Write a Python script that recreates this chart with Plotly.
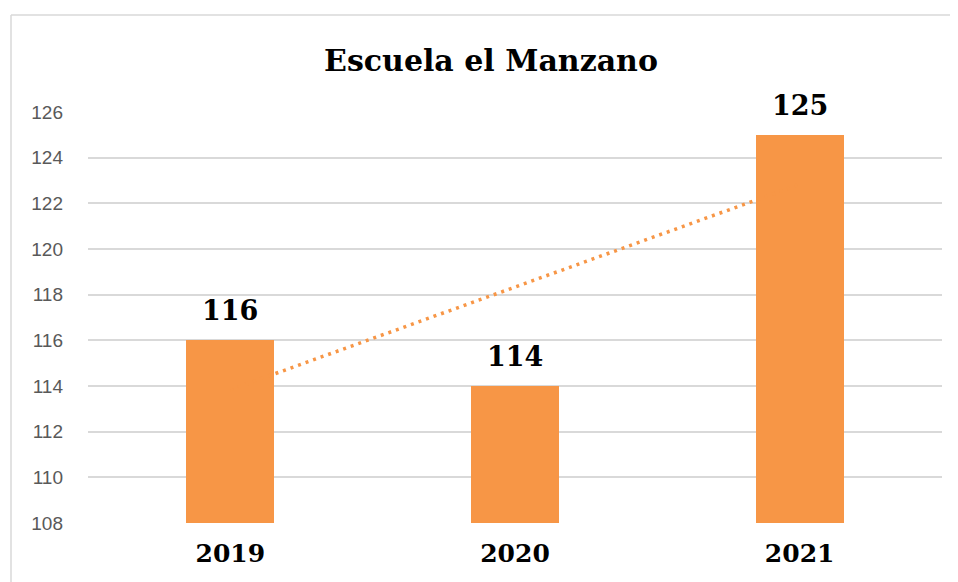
import numpy as np
import plotly.graph_objects as go

years = ["2019", "2020", "2021"]
values = [116, 114, 125]
y_ticks = [108, 110, 112, 114, 116, 118, 120, 122, 124, 126]

x_idx = list(range(len(years)))
coef = np.polyfit(x_idx, values, 1)
trend_y = [coef[0] * x + coef[1] for x in x_idx]

ORANGE = "#F79646"
SERIF = "DejaVu Serif"

fig = go.Figure()
fig.add_trace(go.Scatter(
    x=x_idx, y=trend_y, mode="lines",
    line=dict(color=ORANGE, width=3.5, dash="3px,5px"),
    hoverinfo="skip", showlegend=False,
))
fig.add_trace(go.Bar(
    x=x_idx, y=values, width=0.31,
    marker=dict(color=ORANGE, line=dict(width=0)),
    hoverinfo="x+y", showlegend=False,
))

# page has an 8px body margin; reference pixel p -> figure coordinate p - 8
OFF = 8
W, H = 958 - OFF, 582 - OFF
ml = 88 - OFF
mt = 112 - OFF
mr = W - (942 - OFF)
mb = H - (523 - OFF)
pw, ph = W - ml - mr, H - mt - mb

def px_x(p):
    return (p - OFF - ml) / pw

def px_y(p):
    return 1 - (p - OFF - mt) / ph

annotations = [
    dict(x=x, y=v, xref="x", yref="y", text=f"<b>{v}</b>", showarrow=False,
         yanchor="bottom", xanchor="center", yshift=12,
         font=dict(family=SERIF, size=27, color="black"))
    for x, v in zip(x_idx, values)
]

fig.update_layout(
    width=W, height=H,
    margin=dict(l=ml, r=mr, t=mt, b=mb, pad=0),
    paper_bgcolor="white", plot_bgcolor="white",
    title=dict(text="<b>Escuela el Manzano</b>", x=(491 - OFF) / W, xanchor="center",
               y=1 - (60 - OFF) / H, yanchor="middle",
               font=dict(family=SERIF, size=30, color="black")),
    xaxis=dict(range=[-0.5, 2.5], tickvals=x_idx, ticktext=years,
               tickfont=dict(family=SERIF, size=25, color="black", weight="bold"),
               showgrid=False, zeroline=False, showline=False, ticks="",
               ticklabelstandoff=13),
    yaxis=dict(range=[108, 126], tickvals=y_ticks,
               tickfont=dict(family="Liberation Sans", size=19, color="#595959"),
               showgrid=True, gridcolor="#D9D9D9", gridwidth=1.5,
               zeroline=False, showline=False, ticks="", ticklabelstandoff=24),
    bargap=0, showlegend=False,
    annotations=annotations,
    shapes=[
        dict(type="line", xref="paper", yref="paper",
             x0=px_x(11), x1=px_x(11), y0=px_y(15), y1=px_y(600),
             line=dict(color="#D9D9D9", width=1.5)),
        dict(type="line", xref="paper", yref="paper",
             x0=px_x(11), x1=px_x(970), y0=px_y(15), y1=px_y(15),
             line=dict(color="#D9D9D9", width=1.5)),
    ],
)

fig.write_html("out.html")
